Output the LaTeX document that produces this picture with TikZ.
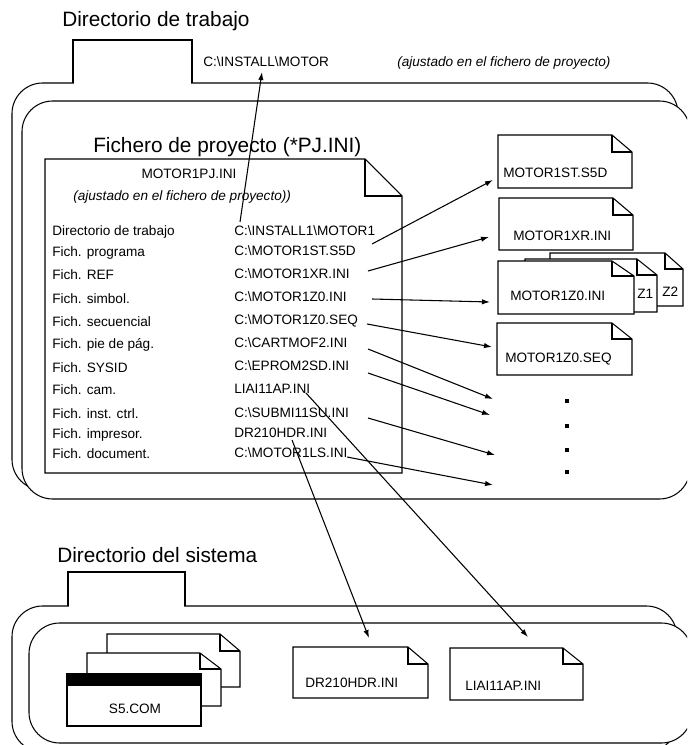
\documentclass[tikz,border=0pt]{standalone}
\usepackage{fontspec}
\setmainfont{Liberation Sans}
\usetikzlibrary{arrows.meta}
\tikzset{
  ln/.style={line width=0.8pt, line join=miter},
  docline/.style={ln, fill=white},
  folder/.style={ln, fill=white, rounded corners=23pt},
  title/.style={font=\fontsize{15.6}{18}\selectfont, anchor=base west, inner sep=0pt},
  lbl/.style={font=\fontsize{10.2}{12}\selectfont, anchor=base west, inner sep=0pt},
  lbli/.style={lbl, font=\fontsize{10.2}{12}\selectfont\itshape},
  ptr/.style={ln, -{Latex[length=6pt,width=4pt]}},
  dot/.style={fill=black},
}
% file sheet with a folded top-right corner: x1,y1,x2,y2,fold x,fold y
\newcommand\dogear[6]{%
  \draw[docline] (#1,#2) -- (#3-#5,#2) -- (#3,#2+#6) -- (#3,#4) -- (#1,#4) -- cycle;
  \draw[ln] (#3-#5,#2) -- (#3-#5,#2+#6) -- (#3,#2+#6);
}
\begin{document}
\begin{tikzpicture}[x=0.75pt,y=-0.75pt]
\clip (0,0) rectangle (687,745);
\fill[white] (0,0) rectangle (687,745);

% ---------- working directory folder ----------
\node[title] (twd) at (62,27) {Directorio de trabajo};
\draw[folder] (12,83) rectangle (678,490);
\fill[white] (73.6,36) rectangle (191.4,84.5);
\draw[ln] (73,83.4) -- (73,40) -- (192,40) -- (192,83.4);
\node[lbl] (wdpath) at (203,67) {C:\textbackslash{}INSTALL\textbackslash{}MOTOR};
\node[lbli] (wdnote) at (397,67) {(ajustado en el fichero de proyecto)};
\draw[folder] (22,101) rectangle (690,499);

\node[title] (tpj) at (93,153) {Fichero de proyecto (*PJ.INI)};

% project file sheet
\draw[docline] (45,159) -- (365,159) -- (402,196) -- (402,473) -- (45,473) -- cycle;
\draw[ln] (365,159) -- (365,196) -- (402,196);
\node[lbl, anchor=base] (pjname) at (189,179) {MOTOR1PJ.INI};
\node[lbli] (pjnote) at (73,200) {(ajustado en el fichero de proyecto))};

% keys
\node[lbl] (k1) at (52,235) {Directorio de trabajo};
\node[lbl] (k2) at (52,257) {Fich. programa};
\node[lbl] (k3) at (52,279) {Fich. REF};
\node[lbl] (k4) at (52,303) {Fich. simbol.};
\node[lbl] (k5) at (52,326) {Fich. secuencial};
\node[lbl] (k6) at (52,348) {Fich. pie de pág.};
\node[lbl] (k7) at (52,372) {Fich. SYSID};
\node[lbl] (k8) at (52,394) {Fich. cam.};
\node[lbl] (k9) at (52,418) {Fich. inst. ctrl.};
\node[lbl] (k10) at (52,438) {Fich. impresor.};
\node[lbl] (k11) at (52,458) {Fich. document.};
% values
\node[lbl] (v1) at (234,235) {C:\textbackslash{}INSTALL1\textbackslash{}MOTOR1};
\node[lbl] (v2) at (234,255) {C:\textbackslash{}MOTOR1ST.S5D};
\node[lbl] (v3) at (234,278) {C:\textbackslash{}MOTOR1XR.INI};
\node[lbl] (v4) at (234,301) {C:\textbackslash{}MOTOR1Z0.INI};
\node[lbl] (v5) at (234,324) {C:\textbackslash{}MOTOR1Z0.SEQ};
\node[lbl] (v6) at (234,347) {C:\textbackslash{}CARTMOF2.INI};
\node[lbl] (v7) at (234,370) {C:\textbackslash{}EPROM2SD.INI};
\node[lbl] (v8) at (234,393) {LIAI11AP.INI};
\node[lbl] (v9) at (234,417) {C:\textbackslash{}SUBMI11SU.INI};
\node[lbl] (v10) at (234,437) {DR210HDR.INI};
\node[lbl] (v11) at (234,457) {C:\textbackslash{}MOTOR1LS.INI};

% files in the working directory
\dogear{498}{135}{632}{188}{20}{17}
\node[lbl] (fS5D) at (503,178) {MOTOR1ST.S5D};
\dogear{499}{198}{633}{250}{20}{17}
\node[lbl] (fXR) at (513,240) {MOTOR1XR.INI};
\dogear{550}{253}{683}{306}{18}{16}
\node[lbl] (fZ2) at (662,296) {Z2};
\dogear{525}{259}{657}{312}{20}{16}
\node[lbl] (fZ1) at (637,298) {Z1};
\dogear{498}{261}{634}{314}{22}{15}
\node[lbl] (fZ0) at (510,300) {MOTOR1Z0.INI};
\dogear{497}{323}{632}{375}{20}{16}
\node[lbl] (fSEQ) at (505,362) {MOTOR1Z0.SEQ};

\foreach \yy in {401,426,450,472} \fill[dot] (565,\yy-2) rectangle (569,\yy+2);

% ---------- system directory folder ----------
\node[title] (tsys) at (57,562) {Directorio del sistema};
\draw[folder] (12,606) rectangle (677,752);
\fill[white] (68.6,565) rectangle (184.4,607.5);
\draw[ln] (68,606.4) -- (68,572) -- (185,572) -- (185,606.4);
\draw[folder] (29,623) rectangle (692,743);

\dogear{107}{634}{240}{687}{20}{17}
\dogear{87}{653}{221}{706}{21}{16}
\draw[docline] (67,674) rectangle (201,726);
\fill (67,674) rectangle (201,686);
\node[lbl, anchor=base] (fS5) at (135,713) {S5.COM};
\dogear{293}{647}{428}{698}{20}{17}
\node[lbl] (fDR) at (305,687) {DR210HDR.INI};
\dogear{450}{648}{583}{700}{20}{16}
\node[lbl] (fLI) at (465,690) {LIAI11AP.INI};

% ---------- connector ends ----------
\coordinate (s1) at (240,222);  \coordinate (e1) at (262,72);
\coordinate (s2) at (372,244);  \coordinate (e2) at (493,180);
\coordinate (s3) at (368,271);  \coordinate (e3) at (489,237);
\coordinate (s4) at (372,299);  \coordinate (e4) at (490,302);
\coordinate (s5) at (367,324);  \coordinate (e5) at (492,347);
\coordinate (s6) at (368,349);  \coordinate (e6) at (493,399);
\coordinate (s7) at (368,373);  \coordinate (e7) at (490,415);
\coordinate (s9) at (368,418);  \coordinate (e9) at (495,455);
\coordinate (s11) at (347,457); \coordinate (e11) at (493,485);
\coordinate (s10) at (292,440); \coordinate (e10) at (369,638);
\coordinate (s8) at (306,393);  \coordinate (e8) at (528,637);

\foreach \k in {1,2,3,4,5,6,7,8,9,10,11} \draw[ptr] (s\k) -- (e\k);
\end{tikzpicture}
\end{document}
